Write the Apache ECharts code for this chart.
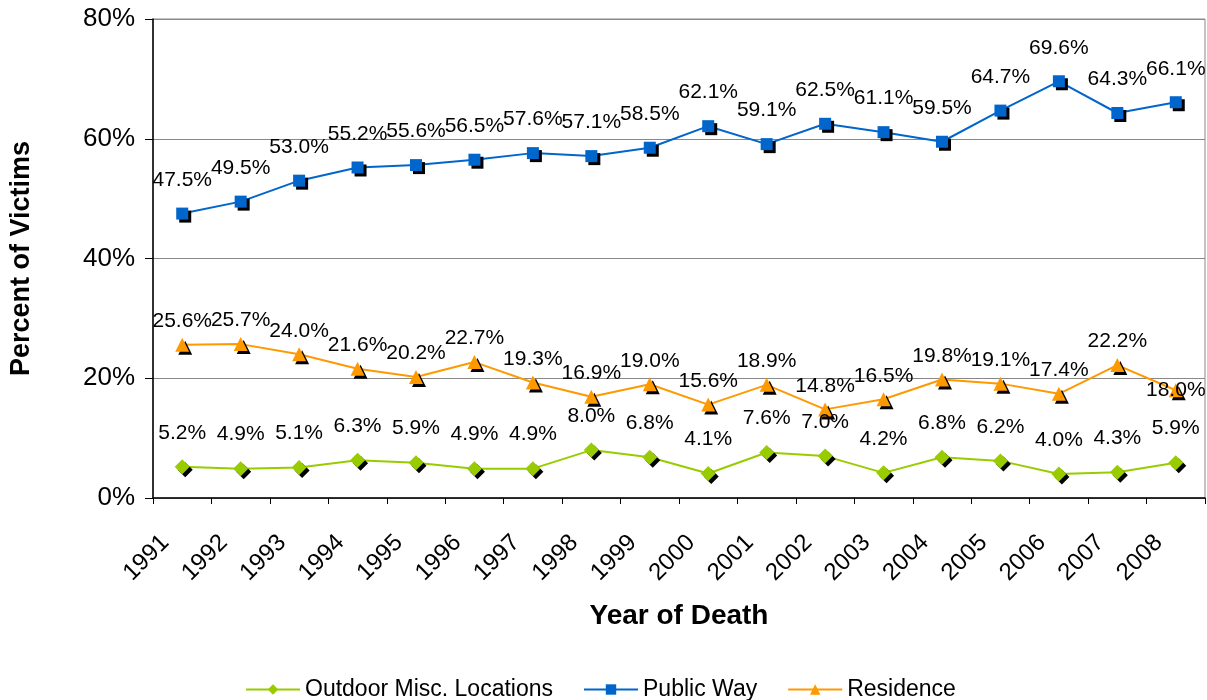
<!DOCTYPE html>
<html>
<head>
<meta charset="utf-8">
<script src="https://cdn.jsdelivr.net/npm/echarts@6/dist/echarts.min.js"></script>
<style>
  html, body { margin: 0; padding: 0; background: #fff; }
  #chart { width: 1207px; height: 700px; }
</style>
</head>
<body>
<div id="chart"></div>
<script>
// data
const years = ['1991', '1992', '1993', '1994', '1995', '1996', '1997', '1998', '1999',
               '2000', '2001', '2002', '2003', '2004', '2005', '2006', '2007', '2008'];
const outdoor = [5.2, 4.9, 5.1, 6.3, 5.9, 4.9, 4.9, 8.0, 6.8, 4.1, 7.6, 7.0, 4.2, 6.8, 6.2, 4.0, 4.3, 5.9];
const publicWay = [47.5, 49.5, 53.0, 55.2, 55.6, 56.5, 57.6, 57.1, 58.5, 62.1, 59.1, 62.5, 61.1, 59.5, 64.7, 69.6, 64.3, 66.1];
const residence = [25.6, 25.7, 24.0, 21.6, 20.2, 22.7, 19.3, 16.9, 19.0, 15.6, 18.9, 14.8, 16.5, 19.8, 19.1, 17.4, 22.2, 18.0];
const yTicks = [0, 20, 40, 60, 80];

const FONT = '"Liberation Sans", Arial, sans-serif';

function lineSeries(name, data, color, symbol, size, labelOpt) {
    return {
        name: name,
        type: 'line',
        data: data,
        symbol: symbol,
        symbolSize: size,
        itemStyle: {
            color: color,
            shadowColor: '#000',
            shadowBlur: 0,
            shadowOffsetX: 3,
            shadowOffsetY: 3
        },
        lineStyle: { color: color, width: 2, shadowBlur: 0, shadowColor: 'transparent' },
        emphasis: { disabled: true },
        label: Object.assign({
            show: true,
            position: 'top',
            distance: 17,
            color: '#000',
            fontFamily: FONT,
            fontSize: 21,
            formatter: p => p.value.toFixed(1) + '%'
        }, labelOpt || {}),
        labelLayout: { hideOverlap: false },
        z: 3
    };
}

// the last residence label sits on its marker, as in the picture
const residenceItems = residence.map((v, i) => i === residence.length - 1
    ? { value: v, label: { position: 'inside', offset: [-10, 0] } }
    : v);

let chart = echarts.init(document.getElementById('chart'), null, { renderer: 'canvas' });
chart.setOption({
    animation: false,
    backgroundColor: '#fff',
    textStyle: { fontFamily: FONT },
    grid: {
        left: 152, right: 2, top: 19, bottom: 202,
        show: true, borderColor: '#888', borderWidth: 1
    },
    legend: {
        top: 673,
        left: 240,
        itemWidth: 54,
        itemHeight: 13,
        itemGap: 30,
        textStyle: { fontFamily: FONT, fontSize: 23, color: '#000' },
        data: ['Outdoor Misc. Locations', 'Public Way', 'Residence']
    },
    xAxis: {
        type: 'category',
        data: years,
        boundaryGap: true,
        name: 'Year of Death',
        nameLocation: 'middle',
        nameGap: 104,
        nameTextStyle: { fontFamily: FONT, fontSize: 28, fontWeight: 'bold', color: '#000' },
        axisLine: { lineStyle: { color: '#000', width: 1.5 } },
        axisTick: { show: true, alignWithLabel: false, length: 6, lineStyle: { color: '#000' } },
        axisLabel: {
            rotate: 45, margin: 24, interval: 0, padding: [0, 24, 0, 0],
            fontFamily: FONT, fontSize: 24, color: '#000'
        },
        splitLine: { show: false }
    },
    yAxis: {
        type: 'value',
        min: yTicks[0],
        max: yTicks[yTicks.length - 1],
        interval: 20,
        name: 'Percent of Victims',
        nameLocation: 'middle',
        nameGap: 118,
        nameTextStyle: { fontFamily: FONT, fontSize: 27, fontWeight: 'bold', color: '#000' },
        axisLine: { show: true, lineStyle: { color: '#000', width: 1.5 } },
        axisTick: { show: true, length: 8, lineStyle: { color: '#000' } },
        axisLabel: {
            margin: 18, fontFamily: FONT, fontSize: 26, color: '#000',
            formatter: v => v + '%'
        },
        splitLine: { show: true, lineStyle: { color: '#888', width: 1 } }
    },
    series: [
        lineSeries('Outdoor Misc. Locations', outdoor, '#99CC00', 'diamond', 15, { distance: 16 }),
        lineSeries('Public Way', publicWay, '#0066CC', 'rect', 12),
        lineSeries('Residence', residenceItems, '#FF9900', 'triangle', 14, { distance: 6, offset: [12, 0] })
    ]
});
</script>
</body>
</html>
